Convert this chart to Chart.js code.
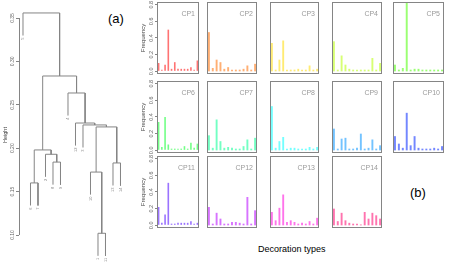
<!DOCTYPE html>
<html><head><meta charset="utf-8">
<script src="https://cdn.jsdelivr.net/npm/chart.js@4/dist/chart.umd.min.js"></script>
<style>
html,body{margin:0;padding:0;background:#fff;}
#wrap{position:relative;width:450px;height:270px;overflow:hidden;font-family:"Liberation Sans",Arial,sans-serif;background:#fff;}
#wrap canvas{position:absolute;}
.txt{position:absolute;white-space:nowrap;line-height:1;color:#000;}
</style></head><body>
<div id="wrap">
  <div class="txt" style="left:108px;top:12px;font-size:13px;">(a)</div>
  <div class="txt" style="left:410px;top:186px;font-size:13px;">(b)</div>
  <div class="txt" style="left:258px;top:245px;font-size:9px;">Decoration types</div>
</div>
<script>
// ---------- data ----------
const decorationTypes = ['T1','T2','T3','T4','T5','T6','T7','T8','T9','T10','T11','T12','T13'];
const panelNames = ['CP1','CP2','CP3','CP4','CP5','CP6','CP7','CP8','CP9','CP10','CP11','CP12','CP13','CP14'];
const cp1  = [0.10,0.02,0.08,0.50,0.03,0.11,0.03,0.03,0.03,0.03,0.05,0.02,0.13];
const cp2  = [0.47,0.04,0.14,0.11,0.03,0.05,0.02,0.02,0.02,0.03,0.07,0.02,0.09];
const cp3  = [0.34,0.02,0.14,0.37,0.02,0.02,0.02,0.03,0.02,0.02,0.07,0.02,0.03];
const cp4  = [0.36,0.02,0.19,0.08,0.03,0.02,0.02,0.02,0.02,0.02,0.16,0.02,0.10];
const cp5  = [0.08,0.02,0.04,0.90,0.02,0.03,0.03,0.02,0.02,0.02,0.02,0.02,0.02];
const cp6  = [0.34,0.04,0.40,0.07,0.02,0.02,0.02,0.02,0.05,0.02,0.09,0.03,0.08];
const cp7  = [0.18,0.03,0.37,0.11,0.03,0.04,0.03,0.02,0.02,0.05,0.13,0.02,0.15];
const cp8  = [0.53,0.03,0.11,0.16,0.02,0.03,0.03,0.02,0.02,0.02,0.04,0.02,0.04];
const cp9  = [0.26,0.02,0.14,0.15,0.02,0.02,0.03,0.20,0.02,0.03,0.13,0.02,0.06];
const cp10 = [0.17,0.08,0.03,0.45,0.06,0.17,0.03,0.02,0.02,0.02,0.03,0.02,0.05];
const cp11 = [0.22,0.03,0.13,0.51,0.02,0.02,0.03,0.03,0.03,0.03,0.05,0.02,0.03];
const cp12 = [0.22,0.02,0.15,0.08,0.02,0.02,0.04,0.04,0.03,0.02,0.34,0.02,0.18];
const cp13 = [0.16,0.06,0.21,0.37,0.04,0.06,0.04,0.02,0.03,0.02,0.05,0.02,0.09];
const cp14 = [0.20,0.05,0.15,0.06,0.03,0.02,0.02,0.01,0.16,0.08,0.15,0.12,0.08];
const freqTicks = [0.0,0.2,0.4,0.6,0.8];

// dendrogram (R hclust style): leaves in plotting order, merges (negative = leaf position, positive = merge row)
const leafLabels  = ['5','6','7','2','8','9','4','12','3','10','1','11','13','14'];
const mergeLeft   = [-11, -2, -10, -13, -5, -4, 2, 3, -9, -8, -7, 7, -1];
const mergeRight  = [-12, -3,   1, -14, -6,  5, 6, 4,  8,  9, 10, 11, 12];
const mergeHeight = [0.102,0.160,0.1725,0.183,0.184,0.193,0.198,0.2245,0.2268,0.229,0.2636,0.2832,0.3558];
const heightTicks = [0.10,0.15,0.20,0.25,0.30,0.35];

// ---------- layout ----------
const colLeft  = [157, 207, 270, 332, 393];
const colWidth = [42, 50, 49, 50, 51];
const rowTop   = [2, 81, 156];
const boxH = 72;
const hues = panelNames.map((_, i) => i * 360 / panelNames.length);

const wrap = document.getElementById('wrap');
function mkCanvas(l, t, w, h) {
  const c = document.createElement('canvas');
  c.width = w; c.height = h;
  c.style.left = l + 'px'; c.style.top = t + 'px';
  c.style.width = w + 'px'; c.style.height = h + 'px';
  wrap.appendChild(c);
  return c;
}
const GRAY = '#858585';
const FONT = '"Liberation Sans", Arial, sans-serif';

const boxPlugin = {
  id: 'rbox',
  afterDraw(chart, args, opts) {
    const {ctx, chartArea: a} = chart;
    ctx.save();
    ctx.strokeStyle = GRAY; ctx.lineWidth = 1;
    ctx.strokeRect(a.left + 0.5, a.top + 0.5, a.right - a.left - 1, a.bottom - a.top - 1);
    ctx.fillStyle = '#9a9a9a';
    ctx.font = '7px ' + FONT;
    ctx.textAlign = 'right'; ctx.textBaseline = 'alphabetic';
    ctx.fillText(opts.label, a.right - 4, a.top + 14);
    ctx.restore();
  }
};

const series = [cp1,cp2,cp3,cp4,cp5,cp6,cp7,cp8,cp9,cp10,cp11,cp12,cp13,cp14];
series.forEach((vals, i) => {
  const r = Math.floor(i / 5), c = i % 5;
  const first = c === 0;
  const axisW = 22, pad = 4;
  const left = first ? colLeft[c] - axisW : colLeft[c];
  const w = first ? colWidth[c] + axisW : colWidth[c];
  const cv = mkCanvas(left, rowTop[r] - pad, w, boxH + 2 * pad);
  const yScale = {
    display: first, min: -0.032, max: 0.832,
    afterBuildTicks: s => { s.ticks = freqTicks.map(v => ({ value: v })); },
    ticks: { font: { size: 5.5, family: FONT }, color: '#666', minRotation: 90, maxRotation: 90,
             crossAlign: 'center', padding: 0, callback: v => Number(v).toFixed(1) },
    grid: { drawOnChartArea: false, drawTicks: true, tickLength: 2, color: GRAY },
    border: { display: false },
    title: { display: first, text: 'Frequency', font: { size: 6, family: FONT }, color: '#444',
             padding: { top: 4.4, bottom: 0 } }
  };
  if (first) yScale.afterFit = s => { s.width = axisW; s.paddingTop = 0; s.paddingBottom = 0; };
  new Chart(cv, {
    type: 'bar',
    data: { labels: decorationTypes, datasets: [{
      data: vals,
      backgroundColor: `hsla(${hues[i]},100%,50%,0.55)`,
      borderWidth: 0, barPercentage: 0.5, categoryPercentage: 1
    }]},
    options: {
      responsive: false, animation: false, events: [], devicePixelRatio: 1,
      layout: { padding: { top: pad, bottom: pad, left: 0, right: 0 } },
      plugins: { legend: { display: false }, tooltip: { enabled: false }, rbox: { label: panelNames[i] } },
      scales: { x: { display: false, offset: true }, y: yScale }
    },
    plugins: [boxPlugin]
  });
});

// ---------- dendrogram ----------
const nLeaf = leafLabels.length;
const hang = 0.026;
const nodeX = [], nodeH = [];
function childX(k) { return k < 0 ? -k : nodeX[k - 1]; }
function childBottom(k, h) { return k < 0 ? h - hang : nodeH[k - 1]; }
const dendroSets = [];
mergeLeft.forEach((L, j) => {
  const R = mergeRight[j], h = mergeHeight[j];
  const xl = childX(L), xr = childX(R);
  nodeX.push((xl + xr) / 2); nodeH.push(h);
  dendroSets.push({
    data: [{x: xl, y: childBottom(L, h)}, {x: xl, y: h}, {x: xr, y: h}, {x: xr, y: childBottom(R, h)}],
    showLine: true, borderColor: GRAY, borderWidth: 1, pointRadius: 0, tension: 0, fill: false
  });
});
const leafBottom = new Array(nLeaf).fill(0);
mergeLeft.forEach((L, j) => {
  const R = mergeRight[j], h = mergeHeight[j];
  if (L < 0) leafBottom[-L - 1] = h - hang;
  if (R < 0) leafBottom[-R - 1] = h - hang;
});

const dendroPlugin = {
  id: 'dendroAxis',
  afterDraw(chart) {
    const {ctx, scales: {x, y}, chartArea: a} = chart;
    ctx.save();
    ctx.strokeStyle = GRAY; ctx.lineWidth = 1;
    ctx.beginPath();
    const xa = Math.round(a.left) + 0.5;
    ctx.moveTo(xa, y.getPixelForValue(heightTicks[0]));
    ctx.lineTo(xa, y.getPixelForValue(heightTicks[heightTicks.length - 1]));
    ctx.stroke();
    ctx.fillStyle = '#888';
    ctx.font = '4px ' + FONT;
    ctx.textAlign = 'right'; ctx.textBaseline = 'middle';
    leafLabels.forEach((lab, i) => {
      const px = x.getPixelForValue(i + 1), py = y.getPixelForValue(leafBottom[i]) + 2;
      ctx.save(); ctx.translate(px, py); ctx.rotate(-Math.PI / 2);
      ctx.fillText(lab, 0, 0); ctx.restore();
    });
    ctx.restore();
  }
};

const dc = mkCanvas(0, 0, 130, 270);
new Chart(dc, {
  type: 'scatter',
  data: { datasets: dendroSets },
  options: {
    responsive: false, animation: false, events: [], devicePixelRatio: 1,
    layout: { padding: 0 },
    plugins: { legend: { display: false }, tooltip: { enabled: false } },
    scales: {
      x: { type: 'linear', display: false, min: 0.4667, max: 15.2667 },
      y: {
        min: 0.05968, max: 0.37074,
        afterBuildTicks: s => { s.ticks = heightTicks.map(v => ({ value: v })); },
        afterFit: s => { s.width = 19; s.paddingTop = 0; s.paddingBottom = 0; },
        ticks: { font: { size: 5, family: FONT }, color: '#666', minRotation: 90, maxRotation: 90,
                 crossAlign: 'center', padding: -1, callback: v => Number(v).toFixed(2) },
        grid: { drawOnChartArea: false, drawTicks: true, tickLength: 3, color: GRAY },
        border: { display: false },
        title: { display: true, text: 'Height', font: { size: 5.5, family: FONT }, color: '#444',
                 padding: { top: 1.7, bottom: 0 } }
      }
    }
  },
  plugins: [dendroPlugin]
});
</script>
</body></html>
